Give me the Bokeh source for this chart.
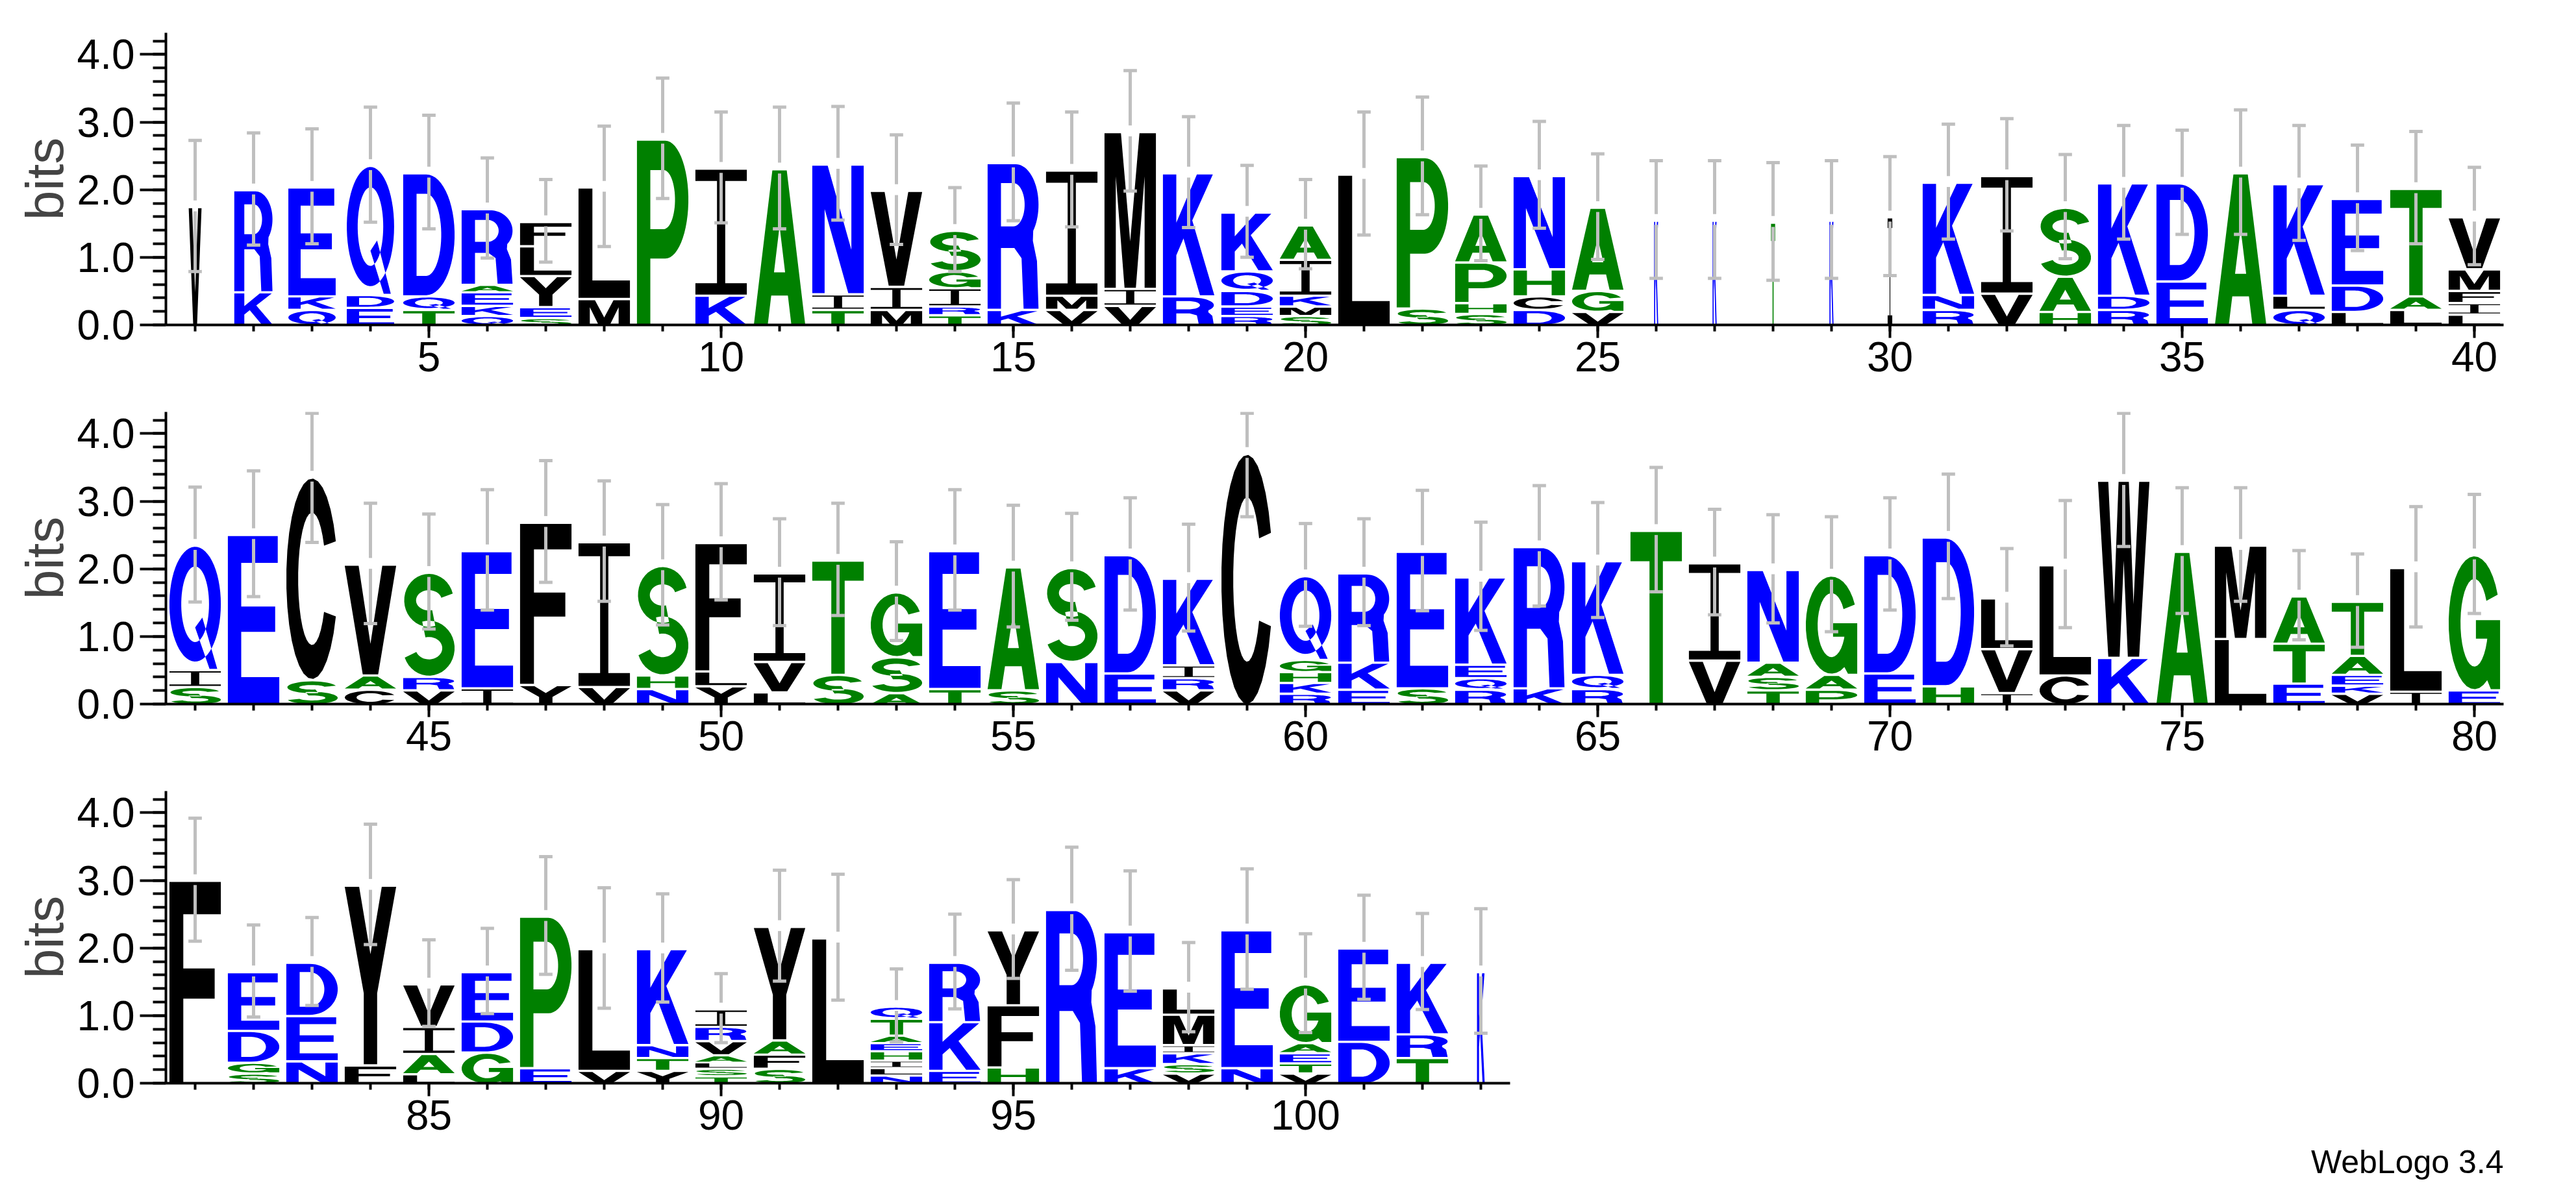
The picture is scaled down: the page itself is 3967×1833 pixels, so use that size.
import numpy as np
from bokeh.plotting import figure
from bokeh.models import ColumnDataSource, FixedTicker, PrintfTickFormatter, Title
from bokeh.layouts import column
from bokeh.embed import file_html
from bokeh.resources import INLINE

# ---------------- data (read from the reference logo) ----------------
# letters of each stack, bottom -> top, and their heights in bits
stack_letters = [
    "V", "KR", "QKE", "EDQ", "TQD", "QKEAR", "SEYLF", "ML", "P", "KI",
    "A", "TIN", "MIV", "TRIGS", "KR", "VMI", "VIM", "RK", "REDQK", "SMKIA",
    "L", "SP", "SHPA", "DCHN", "VGA", "K", "K", "T", "K", "I",
    "RNK", "VI", "HAS", "RDK", "ED", "A", "QLK", "LDE", "LAT", "LIFMV",
    "SIQ", "E", "SC", "CAV", "VRS", "IE", "YF", "VI", "NHS", "YLF",
    "LVI", "ST", "ASG", "TE", "SA", "NS", "ED", "VRIK", "C", "RKHGQ",
    "EKR", "SE", "RQEK", "KR", "RQK", "T", "VI", "TSAN", "PAG", "ED",
    "HD", "IVL", "CL", "KW", "A", "LM", "ETA", "VKEAT", "IL", "EG",
    "F", "SGDE", "NED", "FY", "LAIV", "GDE", "EP", "VL", "YTNK", "TSLAVRI",
    "SFAY", "L", "NLIHEATQ", "EKR", "HFY", "R", "KE", "VSKIML", "NE", "VTEAG",
    "DE", "TRK", "K",
]
stack_heights = [
    [1.76], [0.50, 1.51], [0.24, 0.20, 1.61], [0.27, 0.19, 1.91], [0.24, 0.20, 1.82],
    [0.15, 0.15, 0.20, 0.11, 1.12], [0.12, 0.16, 0.46, 0.44, 0.36], [0.40, 1.65], [2.76], [0.45, 1.88],
    [2.32], [0.24, 0.23, 1.92], [0.24, 0.34, 1.42], [0.16, 0.13, 0.27, 0.25, 0.60], [0.24, 2.17],
    [0.24, 0.21, 1.85], [0.30, 0.25, 2.32], [0.44, 1.82], [0.15, 0.14, 0.23, 0.29, 0.87], [0.15, 0.14, 0.16, 0.53, 0.51],
    [2.24], [0.26, 2.24], [0.18, 0.16, 0.60, 0.71], [0.24, 0.20, 0.40, 1.38], [0.21, 0.31, 1.23],
    [1.56], [1.56], [1.53], [1.56], [1.61],
    [0.24, 0.22, 1.66], [0.48, 1.74], [0.21, 0.52, 1.02], [0.24, 0.21, 1.66], [0.66, 1.45],
    [2.26], [0.24, 0.21, 1.65], [0.21, 0.39, 1.28], [0.24, 0.20, 1.59], [0.17, 0.17, 0.18, 0.32, 0.77],
    [0.27, 0.25, 1.84], [2.52], [0.37, 3.00], [0.23, 0.21, 1.64], [0.22, 0.20, 1.54],
    [0.25, 2.03], [0.30, 2.40], [0.27, 2.14], [0.24, 0.20, 1.62], [0.28, 0.22, 1.90],
    [0.19, 0.45, 1.31], [0.45, 1.69], [0.18, 0.53, 0.96], [0.24, 2.04], [0.22, 1.82],
    [0.64, 1.39], [0.47, 1.75], [0.22, 0.18, 0.19, 1.28], [3.72], [0.17, 0.16, 0.16, 0.18, 1.24],
    [0.23, 0.40, 1.32], [0.25, 2.02], [0.23, 0.17, 0.20, 1.29], [0.25, 2.09], [0.24, 0.21, 1.68],
    [2.58], [0.66, 1.44], [0.22, 0.20, 0.21, 1.37], [0.23, 0.22, 1.47], [0.47, 1.75],
    [0.28, 2.20], [0.18, 0.65, 0.75], [0.44, 1.63], [0.70, 2.62], [2.27],
    [0.98, 1.38], [0.32, 0.59, 0.70], [0.17, 0.12, 0.16, 0.28, 0.80], [0.20, 1.83], [0.22, 2.00],
    [3.01], [0.16, 0.16, 0.47, 0.87], [0.34, 0.67, 0.79], [0.28, 2.66], [0.15, 0.30, 0.40, 0.63],
    [0.47, 0.46, 0.73], [0.24, 2.24], [0.20, 1.80], [0.20, 0.19, 0.19, 1.42], [0.12, 0.11, 0.09, 0.11, 0.21, 0.21, 0.26],
    [0.23, 0.21, 0.21, 1.68], [2.16], [0.13, 0.11, 0.11, 0.14, 0.12, 0.11, 0.25, 0.18], [0.20, 0.72, 0.88], [0.25, 0.92, 1.11],
    [2.58], [0.24, 2.01], [0.16, 0.14, 0.16, 0.12, 0.45, 0.39], [0.24, 2.04], [0.16, 0.15, 0.15, 0.15, 0.87],
    [0.63, 1.38], [0.39, 0.35, 1.06], [1.66],
]
# half length of the error bar drawn around each stack top (bits)
error_half = [
    0.97, 0.83, 0.85, 0.85, 0.84, 0.74, 0.61, 0.89, 0.89, 0.82,
    0.90, 0.84, 0.81, 0.62, 0.87, 0.85, 0.89, 0.82, 0.68, 0.66,
    0.91, 0.87, 0.70, 0.79, 0.78, 0.87, 0.87, 0.87, 0.87, 0.88,
    0.85, 0.83, 0.77, 0.84, 0.77, 0.92, 0.85, 0.78, 0.83, 0.72,
    0.85, 0.93, 0.98, 0.89, 0.85, 0.89, 0.90, 0.89, 0.89, 0.86,
    0.79, 0.83, 0.73, 0.89, 0.90, 0.79, 0.83, 0.79, 0.95, 0.76,
    0.79, 0.89, 0.80, 0.89, 0.85, 0.92, 0.78, 0.80, 0.85, 0.83,
    0.92, 0.72, 0.94, 0.99, 0.93, 0.84, 0.66, 0.69, 0.89, 0.88,
    0.91, 0.68, 0.65, 0.89, 0.64, 0.63, 0.87, 0.89, 0.80, 0.51,
    0.82, 0.93, 0.54, 0.70, 0.73, 0.91, 0.89, 0.66, 0.89, 0.73,
    0.77, 0.71, 0.92,
]
# stacks drawn narrower (fraction of sequences present at that column)
narrow_positions = [1, 2, 3, 4, 26, 27, 28, 29, 30, 103]
narrow_widths = [0.25, 0.75, 0.92, 0.92, 0.08, 0.08, 0.08, 0.08, 0.09, 0.15]

x_major_ticks = [[5, 10, 15, 20, 25, 30, 35, 40],
                 [45, 50, 55, 60, 65, 70, 75, 80],
                 [85, 90, 95, 100]]
y_major_ticks = [0, 1, 2, 3, 4]
y_minor_ticks = [0.0, 0.2, 0.4, 0.6, 0.8, 1.0, 1.2, 1.4, 1.6, 1.8, 2.0,
                 2.2, 2.4, 2.6, 2.8, 3.0, 3.2, 3.4, 3.6, 3.8, 4.0, 4.2]
Y_MAX = 4.32  # log2(20)
PER_ROW = 40
fine_print = "WebLogo 3.4"

color_groups = {"#0000FF": "KRDENQ", "#008000": "SGHTAP", "#000000": "YVMCLFIW"}
COLOR = {c: col for col, letters in color_groups.items() for c in letters}

# ---------------- letter outlines (unit box) ----------------
def arc(cx, cy, rx, ry, a0, a1, n=30):
    t = np.radians(np.linspace(a0, a1, n))
    return [(cx + rx * np.cos(a), cy + ry * np.sin(a)) for a in t]

SHAPES = {
    "A": [[[(0, 0), (0.27, 0), (0.338, 0.19), (0.662, 0.19), (0.73, 0), (1, 0), (0.64, 1), (0.36, 1)],
           [(0.392, 0.34), (0.608, 0.34), (0.5, 0.64)]]],
    "C": [[arc(0.5, 0.5, 0.5, 0.5, 22, 338) + arc(0.5, 0.5, 0.27, 0.33, 330, 30)]],
    "D": [[[(0, 0)] + arc(0.45, 0.5, 0.55, 0.5, -90, 90) + [(0, 1)],
           [(0.26, 0.16)] + arc(0.45, 0.5, 0.29, 0.34, -90, 90) + [(0.26, 0.84)]]],
    "E": [[[(0, 0), (1, 0), (1, 0.16), (0.26, 0.16), (0.26, 0.43), (0.92, 0.43), (0.92, 0.58),
            (0.26, 0.58), (0.26, 0.84), (0.97, 0.84), (0.97, 1), (0, 1)]]],
    "F": [[[(0, 0), (0.27, 0), (0.27, 0.42), (0.88, 0.42), (0.88, 0.57), (0.27, 0.57),
            (0.27, 0.84), (1, 0.84), (1, 1), (0, 1)]]],
    "G": [[arc(0.5, 0.5, 0.5, 0.5, 25, 300) + [(0.82, 0.0), (1.0, 0.0), (1.0, 0.52), (0.53, 0.52),
                                                (0.53, 0.38), (0.75, 0.38)] + arc(0.5, 0.5, 0.27, 0.33, 335, 30)]],
    "H": [[[(0, 0), (0.26, 0), (0.26, 0.42), (0.74, 0.42), (0.74, 0), (1, 0), (1, 1), (0.74, 1),
            (0.74, 0.58), (0.26, 0.58), (0.26, 1), (0, 1)]]],
    "I": [[[(0, 0), (1, 0), (1, 0.09), (0.58, 0.09), (0.58, 0.91), (1, 0.91), (1, 1), (0, 1),
            (0, 0.91), (0.42, 0.91), (0.42, 0.09), (0, 0.09)]]],
    "K": [[[(0, 0), (0.26, 0), (0.26, 0.33), (0.4, 0.47), (0.72, 0), (1, 0), (0.57, 0.62),
            (0.97, 1), (0.66, 1), (0.26, 0.6), (0.26, 1), (0, 1)]]],
    "L": [[[(0, 0), (1, 0), (1, 0.16), (0.27, 0.16), (0.27, 1), (0, 1)]]],
    "M": [[[(0, 0), (0.22, 0), (0.22, 0.72), (0.39, 0), (0.61, 0), (0.78, 0.72), (0.78, 0),
            (1, 0), (1, 1), (0.68, 1), (0.5, 0.3), (0.32, 1), (0, 1)]]],
    "N": [[[(0, 0), (0.24, 0), (0.24, 0.66), (0.7, 0), (1, 0), (1, 1), (0.76, 1), (0.76, 0.34),
            (0.3, 1), (0, 1)]]],
    "P": [[[(0, 0), (0.26, 0), (0.26, 0.36)] + arc(0.55, 0.68, 0.45, 0.32, -90, 90) + [(0, 1)],
           [(0.26, 0.52)] + arc(0.52, 0.68, 0.22, 0.16, -90, 90) + [(0.26, 0.84)]]],
    "Q": [[arc(0.5, 0.53, 0.5, 0.47, 0, 360, 60), arc(0.5, 0.53, 0.27, 0.31, 0, 360, 60)],
          [[(0.5, 0.34), (0.64, 0.42), (0.93, 0.0), (0.78, 0.0)]]],
    "R": [[[(0, 0), (0.26, 0), (0.26, 0.42), (0.52, 0.42), (0.66, 0.35), (0.70, 0), (0.99, 0),
            (0.96, 0.33), (0.88, 0.47)] + arc(0.55, 0.72, 0.44, 0.28, -40, 90) + [(0, 1)],
           [(0.26, 0.57)] + arc(0.5, 0.72, 0.22, 0.15, -90, 90) + [(0.26, 0.87)]]],
    "S": [[arc(0.5, 0.74, 0.48, 0.26, 15, 285) + arc(0.5, 0.74, 0.25, 0.10, 285, 15)],
          [arc(0.5, 0.27, 0.5, 0.27, 105, -160) + arc(0.5, 0.27, 0.26, 0.11, -160, 105)]],
    "T": [[[(0.37, 0), (0.63, 0), (0.63, 0.83), (1, 0.83), (1, 1), (0, 1), (0, 0.83), (0.37, 0.83)]]],
    "V": [[[(0, 1), (0.35, 0), (0.65, 0), (1, 1), (0.73, 1), (0.5, 0.28), (0.27, 1)]]],
    "W": [[[(0, 1), (0.2, 0), (0.42, 0), (0.5, 0.55), (0.58, 0), (0.8, 0), (1, 1), (0.8, 1),
            (0.69, 0.3), (0.6, 1), (0.4, 1), (0.31, 0.3), (0.2, 1)]]],
    "Y": [[[(0.37, 0), (0.63, 0), (0.63, 0.4), (1, 1), (0.72, 1), (0.5, 0.62), (0.28, 1), (0, 1),
            (0.37, 0.4)]]],
}

LETTER_W = 0.88
GAP = 0.035
ERR_GAP = 0.08
CAP = 0.115
FONT = "Liberation Sans"

width_frac = [1.0] * len(stack_letters)
for pnum, wf in zip(narrow_positions, narrow_widths):
    width_frac[pnum - 1] = wf

rows = []
for r in range(3):
    lo = PER_ROW * r + 0.5
    last_row = (r == 2)
    p = figure(frame_width=3600, frame_height=450,
               x_range=(lo, lo + PER_ROW), y_range=(0, Y_MAX),
               output_backend="svg", toolbar_location=None,
               min_border_left=255, min_border_right=60,
               min_border_top=50 if r == 0 else 34,
               min_border_bottom=150 if last_row else 100)
    p.outline_line_color = None
    p.xgrid.visible = False
    p.ygrid.visible = False

    xs, ys, cols = [], [], []
    ex0, ey0, ex1, ey1 = [], [], [], []
    for i in range(PER_ROW * r, min(PER_ROW * (r + 1), len(stack_letters))):
        pos = i + 1
        w = LETTER_W * width_frac[i]
        x0 = pos - w / 2
        y = 0.0
        for ch, h in zip(stack_letters[i], stack_heights[i]):
            hh = h - min(GAP, 0.3 * h)
            gx, gy = [], []
            for poly in SHAPES[ch]:
                px, py = [], []
                for ring in poly:
                    pts = np.array(ring)
                    px.append(list(x0 + pts[:, 0] * w))
                    py.append(list(y + pts[:, 1] * hh))
                gx.append(px)
                gy.append(py)
            xs.append(gx)
            ys.append(gy)
            cols.append(COLOR[ch])
            y += h
        top = y
        e = error_half[i]
        up = min(top + e, Y_MAX - 0.02)
        dn = top - e
        ex0 += [pos, pos]; ey0 += [top + ERR_GAP, dn]
        ex1 += [pos, pos]; ey1 += [up, top - ERR_GAP]
        ex0 += [pos - CAP, pos - CAP]; ey0 += [up, dn]
        ex1 += [pos + CAP, pos + CAP]; ey1 += [up, dn]

    src = ColumnDataSource(dict(xs=xs, ys=ys, color=cols))
    p.multi_polygons(xs="xs", ys="ys", fill_color="color", line_color=None, source=src)
    p.segment(x0=ex0, y0=ey0, x1=ex1, y1=ey1, line_color="#BFBFBF", line_width=5)

    # x axis
    xa = p.xaxis[0]
    last_pos = min(PER_ROW * (r + 1), len(stack_letters))
    xa.ticker = FixedTicker(ticks=x_major_ticks[r],
                            minor_ticks=list(range(PER_ROW * r + 1, last_pos + 1)))
    xa.bounds = (lo, last_pos + 0.5)
    xa.axis_line_width = 4
    xa.major_tick_line_width = 4
    xa.minor_tick_line_width = 4
    xa.major_tick_out = 20
    xa.major_tick_in = 0
    xa.minor_tick_out = 10
    xa.minor_tick_in = 0
    xa.major_label_standoff = 6
    xa.major_label_text_font = FONT
    xa.major_label_text_font_size = "64px"
    xa.major_label_text_color = "black"

    # y axis
    ya = p.yaxis[0]
    ya.ticker = FixedTicker(ticks=y_major_ticks, minor_ticks=y_minor_ticks)
    ya.formatter = PrintfTickFormatter(format="%.1f")
    ya.axis_line_width = 4
    ya.major_tick_line_width = 4
    ya.minor_tick_line_width = 4
    ya.major_tick_out = 40
    ya.major_tick_in = 0
    ya.minor_tick_out = 20
    ya.minor_tick_in = 0
    ya.major_label_standoff = 8
    ya.major_label_text_font = FONT
    ya.major_label_text_font_size = "64px"
    ya.major_label_text_color = "black"
    ya.axis_label = "bits"
    ya.axis_label_text_font = FONT
    ya.axis_label_text_font_size = "82px"
    ya.axis_label_text_font_style = "normal"
    ya.axis_label_standoff = 2

    if last_row:
        p.add_layout(Title(text=fine_print, align="right", text_font=FONT,
                           text_font_size="50px", text_font_style="normal",
                           text_color="black", standoff=34), "below")
    rows.append(p)

layout = column(*rows)
open("out.html", "w").write(file_html(layout, INLINE))
